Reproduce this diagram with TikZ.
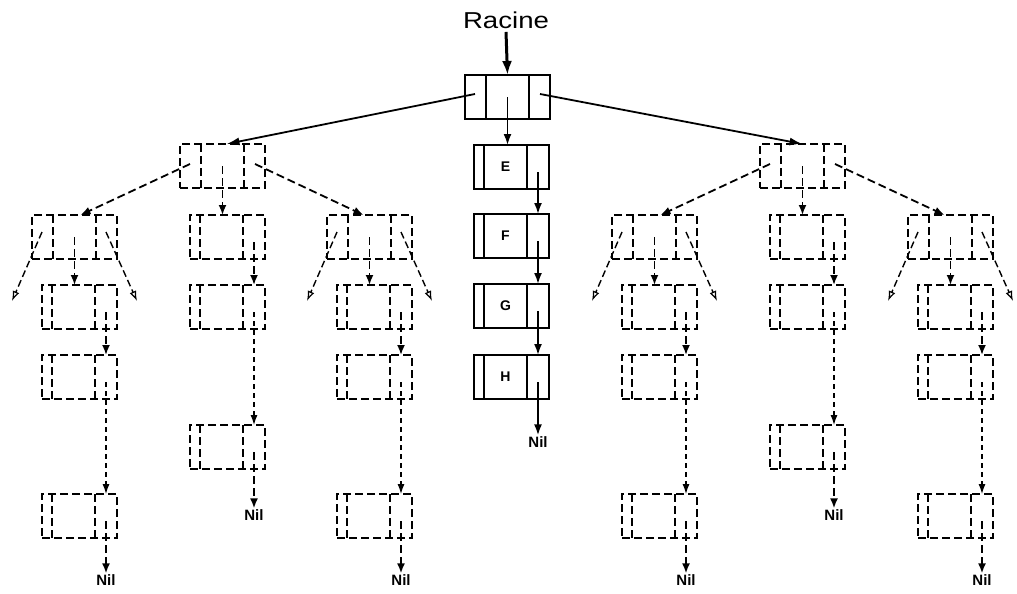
\documentclass[tikz,border=0pt]{standalone}
\usepackage{fontspec}
\usepackage{graphicx}
\setmainfont{Liberation Sans}
\usetikzlibrary{arrows.meta,calc}
\tikzset{
  dsh/.style={dash pattern=on 8pt off 4pt},
  fdsh/.style={line width=1.2pt,dash pattern=on 5pt off 4pt},
  box/.style={draw,line width=2pt,inner sep=0pt,outer sep=0pt,anchor=north west,minimum height=44pt,font=\bfseries\fontsize{14}{16}\selectfont},
  sbox/.style={box},
  dbox/.style={box,dsh},
  tri/.style={minimum width=85pt,path picture={
     \draw[line width=2pt,#1] ([xshift=21pt]path picture bounding box.north west) -- ([xshift=21pt]path picture bounding box.south west)
       ([xshift=-21pt]path picture bounding box.north east) -- ([xshift=-21pt]path picture bounding box.south east);}},
  lst/.style={minimum width=75pt,path picture={
     \draw[line width=2pt,#1] ([xshift=10pt]path picture bounding box.north west) -- ([xshift=10pt]path picture bounding box.south west)
       ([xshift=-22pt]path picture bounding box.north east) -- ([xshift=-22pt]path picture bounding box.south east);}},
  sarr/.style={line width=1.8pt,-{Latex[length=11pt,width=8pt]}},
  darr/.style={line width=1.8pt,dsh,-{Latex[length=10pt,width=8pt]}},
  farr/.style={fdsh,-{Latex[length=10pt,width=7pt]}},
  oarr/.style={line width=1.4pt,dash pattern=on 7pt off 3.5pt,-{Latex[open,length=10pt,width=7pt,line width=1.2pt]}},
  nil/.style={font=\bfseries\fontsize{15}{18}\selectfont,inner sep=1pt},
}
\begin{document}
\begin{tikzpicture}[x=1pt,y=-1pt]
\useasboundingbox (0,0) rectangle (1017,594);
% root and title
\node (racine) at (506,20) {\fontsize{23}{27}\selectfont\scalebox{1.2}[1]{Racine}};
\node[sbox,tri=solid] (root) at (465,75) {};
% central list
\node[sbox,lst=solid] (E) at (474,145) {\hspace*{-12pt}E};
\node[sbox,lst=solid] (F) at (474,214) {\hspace*{-12pt}F};
\node[sbox,lst=solid] (G) at (474,284) {\hspace*{-12pt}G};
\node[sbox,lst=solid] (H) at (474,355) {\hspace*{-12pt}H};
\node[nil] (nilE) at (538,442) {Nil};
% level 1
\node[dbox,tri=dsh] (L) at (180,144) {};
\node[dbox,tri=dsh] (R) at (760,144) {};
% level 2
\node[dbox,tri=dsh] (A1) at (32,215) {};
\node[dbox,lst=dsh] (A2) at (190,215) {};
\node[dbox,tri=dsh] (A3) at (327,215) {};
\node[dbox,tri=dsh] (B1) at (612,215) {};
\node[dbox,lst=dsh] (B2) at (770,215) {};
\node[dbox,tri=dsh] (B3) at (908,215) {};
% lists
\node[dbox,lst=dsh] (A1a) at (42,285) {};
\node[dbox,lst=dsh] (A1b) at (42,355) {};
\node[dbox,lst=dsh] (A1c) at (42,494) {};
\node[nil] (nilA1) at (106,580) {Nil};
\node[dbox,lst=dsh] (A2b) at (190,285) {};
\node[dbox,lst=dsh] (A2c) at (190,425) {};
\node[nil] (nilA2) at (254,515) {Nil};
\node[dbox,lst=dsh] (A3a) at (337,285) {};
\node[dbox,lst=dsh] (A3b) at (337,355) {};
\node[dbox,lst=dsh] (A3c) at (337,494) {};
\node[nil] (nilA3) at (401,580) {Nil};
\node[dbox,lst=dsh] (B1a) at (622,285) {};
\node[dbox,lst=dsh] (B1b) at (622,355) {};
\node[dbox,lst=dsh] (B1c) at (622,494) {};
\node[nil] (nilB1) at (686,580) {Nil};
\node[dbox,lst=dsh] (B2b) at (770,285) {};
\node[dbox,lst=dsh] (B2c) at (770,425) {};
\node[nil] (nilB2) at (834,515) {Nil};
\node[dbox,lst=dsh] (B3a) at (918,285) {};
\node[dbox,lst=dsh] (B3b) at (918,355) {};
\node[dbox,lst=dsh] (B3c) at (918,494) {};
\node[nil] (nilB3) at (982,580) {Nil};
% root connectors
\draw[line width=3pt,-{Latex[length=14pt,width=10pt]}] (racine.south) -- (root.north);
\draw[sarr] (root.center) -- (root.center |- E.north);
\draw[line width=1.8pt,-{Latex[length=13pt,width=8pt]}] ($(root.west)+(10,-3)$) -- ($(L.north)+(4,0)$);
\draw[line width=1.8pt,-{Latex[length=13pt,width=8pt]}] ($(root.east)+(-10,-3)$) -- (R.north);
% central list connectors
\draw[sarr] ($(E.east)+(-11,5)$) -- ($(F.north east)+(-11,0)$);
\draw[sarr] ($(F.east)+(-11,5)$) -- ($(G.north east)+(-11,0)$);
\draw[sarr] ($(G.east)+(-11,5)$) -- ($(H.north east)+(-11,0)$);
\draw[sarr] ($(H.east)+(-11,5)$) -- (nilE.north);
% level 1 connectors
\draw[darr] ($(L.west)+(10,-2)$) -- ($(A1.north)+(6,0)$);
\draw[darr] ($(L.east)+(-10,-2)$) -- ($(A3.north)+(-6,0)$);
\draw[darr] (L.center) -- (L.center |- A2.north);
\draw[darr] ($(R.west)+(10,-2)$) -- ($(B1.north)+(6,0)$);
\draw[darr] ($(R.east)+(-10,-2)$) -- ($(B3.north)+(-6,0)$);
\draw[darr] (R.center) -- (R.center |- B2.north);
% diverging open arrows
\coordinate (A1l) at ($(A1.south west)+(-20,42)$);
\coordinate (A1r) at ($(A1.south east)+(20,42)$);
\coordinate (A3l) at ($(A3.south west)+(-20,42)$);
\coordinate (A3r) at ($(A3.south east)+(20,42)$);
\coordinate (B1l) at ($(B1.south west)+(-20,42)$);
\coordinate (B1r) at ($(B1.south east)+(20,42)$);
\coordinate (B3l) at ($(B3.south west)+(-20,42)$);
\coordinate (B3r) at ($(B3.south east)+(20,42)$);
\draw[oarr] ($(A1.north west)+(10,17)$) -- (A1l);
\draw[oarr] ($(A1.north east)+(-11,17)$) -- (A1r);
\draw[oarr] ($(A3.north west)+(10,17)$) -- (A3l);
\draw[oarr] ($(A3.north east)+(-11,17)$) -- (A3r);
\draw[oarr] ($(B1.north west)+(10,17)$) -- (B1l);
\draw[oarr] ($(B1.north east)+(-11,17)$) -- (B1r);
\draw[oarr] ($(B3.north west)+(10,17)$) -- (B3l);
\draw[oarr] ($(B3.north east)+(-11,17)$) -- (B3r);
% level 2 to lists
\draw[darr] (A1.center) -- (A1.center |- A1a.north);
\draw[darr] (A3.center) -- (A3.center |- A3a.north);
\draw[darr] (B1.center) -- (B1.center |- B1a.north);
\draw[darr] (B3.center) -- (B3.center |- B3a.north);
% list chains
\draw[darr] ($(A1a.east)+(-11,5)$) -- ($(A1b.north east)+(-11,0)$);
\draw[farr] ($(A1b.east)+(-11,5)$) -- ($(A1c.north east)+(-11,0)$);
\draw[darr] ($(A1c.east)+(-11,5)$) -- (nilA1.north);
\draw[darr] ($(A2.east)+(-11,5)$) -- ($(A2b.north east)+(-11,0)$);
\draw[farr] ($(A2b.east)+(-11,5)$) -- ($(A2c.north east)+(-11,0)$);
\draw[darr] ($(A2c.east)+(-11,5)$) -- (nilA2.north);
\draw[darr] ($(A3a.east)+(-11,5)$) -- ($(A3b.north east)+(-11,0)$);
\draw[farr] ($(A3b.east)+(-11,5)$) -- ($(A3c.north east)+(-11,0)$);
\draw[darr] ($(A3c.east)+(-11,5)$) -- (nilA3.north);
\draw[darr] ($(B1a.east)+(-11,5)$) -- ($(B1b.north east)+(-11,0)$);
\draw[farr] ($(B1b.east)+(-11,5)$) -- ($(B1c.north east)+(-11,0)$);
\draw[darr] ($(B1c.east)+(-11,5)$) -- (nilB1.north);
\draw[darr] ($(B2.east)+(-11,5)$) -- ($(B2b.north east)+(-11,0)$);
\draw[farr] ($(B2b.east)+(-11,5)$) -- ($(B2c.north east)+(-11,0)$);
\draw[darr] ($(B2c.east)+(-11,5)$) -- (nilB2.north);
\draw[darr] ($(B3a.east)+(-11,5)$) -- ($(B3b.north east)+(-11,0)$);
\draw[farr] ($(B3b.east)+(-11,5)$) -- ($(B3c.north east)+(-11,0)$);
\draw[darr] ($(B3c.east)+(-11,5)$) -- (nilB3.north);
\end{tikzpicture}
\end{document}
